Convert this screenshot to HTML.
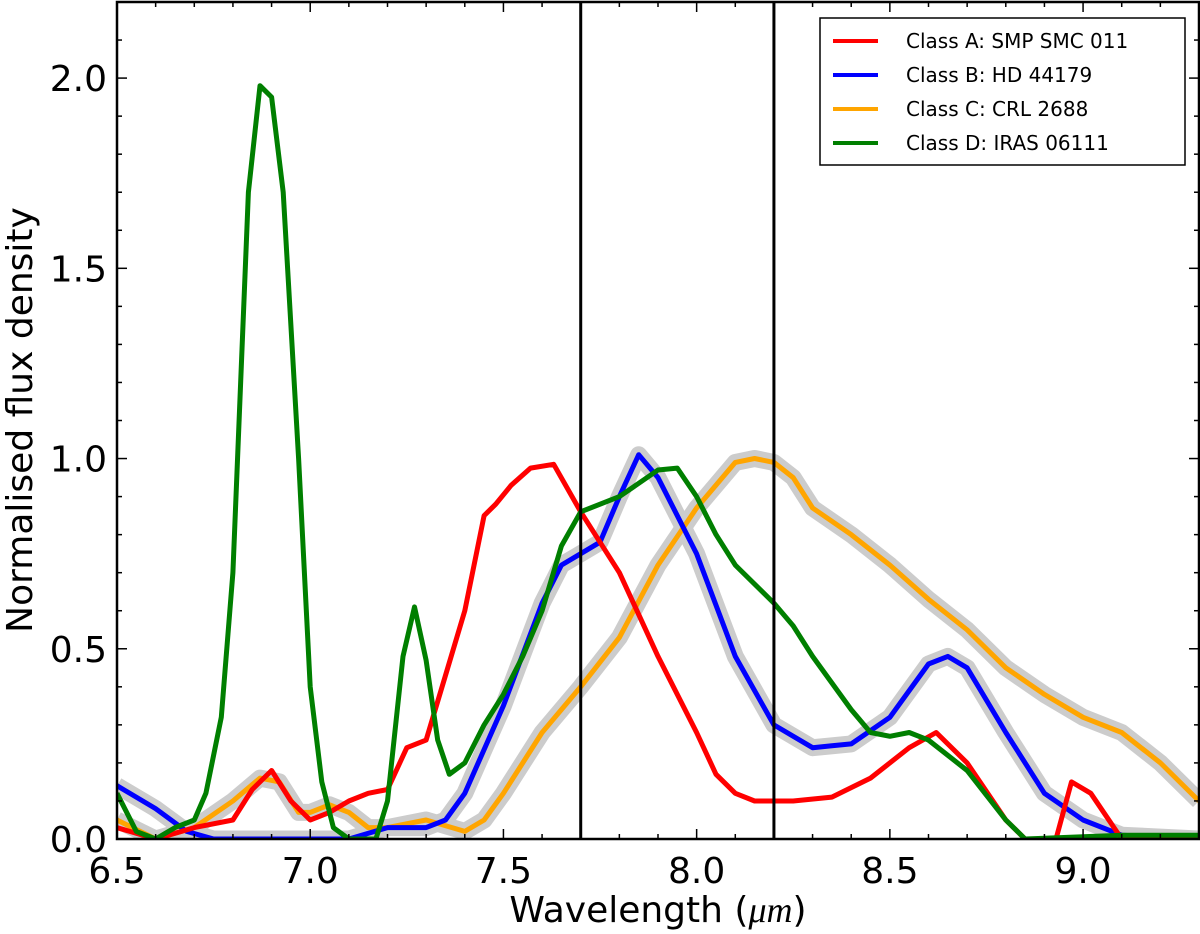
<!DOCTYPE html>
<html><head><meta charset="utf-8"><style>
body{margin:0;background:#fff;}
svg{display:block;font-family:"DejaVu Sans","Liberation Sans",sans-serif;}
</style></head><body>
<svg id="chart" width="1200" height="934"></svg>
<script>
const xTicks=[6.5,7.0,7.5,8.0,8.5,9.0];
const yTicks=[0.0,0.5,1.0,1.5,2.0];
const vLines=[7.7,8.2];
const seriesNames=["Class A: SMP SMC 011","Class B: HD 44179","Class C: CRL 2688","Class D: IRAS 06111"];
const seriesColors=["#ff0000","#0000ff","#ffa500","#007f00"];
const aX=[6.5,6.6,6.7,6.8,6.85,6.9,6.95,7.0,7.05,7.1,7.15,7.2,7.25,7.3,7.35,7.4,7.45,7.48,7.52,7.57,7.63,7.7,7.8,7.9,8.0,8.05,8.1,8.15,8.25,8.35,8.45,8.55,8.62,8.7,8.8,8.85,8.93,8.97,9.02,9.1,9.3];
const aY=[0.03,0.0,0.03,0.05,0.13,0.18,0.1,0.05,0.07,0.1,0.12,0.13,0.24,0.26,0.43,0.6,0.85,0.88,0.93,0.975,0.985,0.86,0.7,0.48,0.28,0.17,0.12,0.1,0.1,0.11,0.16,0.24,0.28,0.2,0.05,0.0,0.0,0.15,0.12,0.0,0.0];
const bX=[6.5,6.6,6.68,6.75,7.1,7.2,7.3,7.35,7.4,7.5,7.6,7.65,7.7,7.75,7.8,7.85,7.9,8.0,8.1,8.2,8.3,8.35,8.4,8.5,8.6,8.65,8.7,8.8,8.9,9.0,9.1,9.3];
const bY=[0.14,0.08,0.02,0.0,0.0,0.03,0.03,0.05,0.12,0.35,0.62,0.72,0.75,0.78,0.9,1.01,0.95,0.75,0.48,0.3,0.24,0.245,0.25,0.32,0.46,0.48,0.45,0.28,0.12,0.05,0.01,0.0];
const cX=[6.5,6.6,6.7,6.8,6.87,6.92,6.97,7.0,7.05,7.1,7.15,7.2,7.3,7.4,7.45,7.5,7.6,7.7,7.8,7.9,8.0,8.1,8.15,8.2,8.25,8.3,8.4,8.5,8.6,8.7,8.8,8.9,9.0,9.1,9.2,9.3];
const cY=[0.05,0.0,0.03,0.1,0.16,0.15,0.07,0.07,0.09,0.07,0.03,0.03,0.05,0.02,0.05,0.12,0.28,0.4,0.53,0.72,0.87,0.99,1.0,0.99,0.95,0.87,0.8,0.72,0.63,0.55,0.45,0.38,0.32,0.28,0.2,0.1];
const dX=[6.5,6.55,6.6,6.65,6.7,6.73,6.77,6.8,6.84,6.87,6.9,6.93,6.97,7.0,7.03,7.06,7.1,7.17,7.2,7.24,7.27,7.3,7.33,7.36,7.4,7.45,7.5,7.55,7.6,7.65,7.7,7.8,7.9,7.95,8.0,8.05,8.1,8.2,8.25,8.3,8.4,8.45,8.5,8.55,8.6,8.7,8.8,8.85,9.1,9.3];
const dY=[0.12,0.02,0.0,0.03,0.05,0.12,0.32,0.7,1.7,1.98,1.95,1.7,1.0,0.4,0.15,0.03,0.0,0.0,0.1,0.48,0.61,0.47,0.26,0.17,0.2,0.3,0.38,0.48,0.6,0.77,0.86,0.9,0.97,0.975,0.9,0.8,0.72,0.62,0.56,0.48,0.34,0.28,0.27,0.28,0.26,0.18,0.05,0.0,0.01,0.01];

const L=117,R=1199,T=2,B=839,X0=6.5,X1=9.3,Y0=0,Y1=2.2;
const sx=v=>L+(v-X0)/(X1-X0)*(R-L);
const sy=v=>B-(v-Y0)/(Y1-Y0)*(B-T);
const NS="http://www.w3.org/2000/svg";
const svg=document.getElementById('chart');
function mk(tag,attrs,parent){const e=document.createElementNS(NS,tag);for(const k in attrs)e.setAttribute(k,attrs[k]);(parent||svg).appendChild(e);return e;}
const clip=mk('clipPath',{id:'pc'});mk('rect',{x:L,y:T,width:R-L,height:B-T},clip);
const plot=mk('g',{'clip-path':'url(#pc)'});


function pts(xs,ys){return xs.map((x,i)=>sx(x).toFixed(1)+','+sy(ys[i]).toFixed(1)).join(' ');}
[[cX,cY,'c'],[bX,bY,'b']].forEach(([xs,ys,n])=>{
  const e=mk('polyline',{points:pts(xs,ys),fill:'none',stroke:'#cccccc','stroke-width':17,'stroke-linejoin':'round'},plot);
  
  
});
const allX=[aX,bX,cX,dX],allY=[aY,bY,cY,dY];
const order=[2,1,0,3];
order.forEach(i=>{
  const e=mk('polyline',{points:pts(allX[i],allY[i]),fill:'none',stroke:seriesColors[i],'stroke-width':5,'stroke-linejoin':'round'},plot);
  
  
});
vLines.forEach(v=>{
  const e=mk('line',{x1:sx(v),x2:sx(v),y1:T,y2:B,stroke:'#000','stroke-width':3},plot);
  
  
});
const fr=mk('rect',{x:L,y:T,width:R-L,height:B-T,fill:'none',stroke:'#000','stroke-width':2.5});


for(let v=6.5;v<=9.301;v+=0.1){const maj=Math.abs((v*2)-Math.round(v*2))<1e-6;const len=maj?10:5;
 mk('line',{x1:sx(v),x2:sx(v),y1:B,y2:B-len,stroke:'#000','stroke-width':1.5});
 mk('line',{x1:sx(v),x2:sx(v),y1:T,y2:T+len,stroke:'#000','stroke-width':1.5});}
for(let v=0;v<=2.201;v+=0.1){const maj=Math.abs((v*2)-Math.round(v*2))<1e-6;const len=maj?10:5;
 mk('line',{x1:L,x2:L+len,y1:sy(v),y2:sy(v),stroke:'#000','stroke-width':1.5});
 mk('line',{x1:R,x2:R-len,y1:sy(v),y2:sy(v),stroke:'#000','stroke-width':1.5});}
xTicks.forEach(v=>{const t=mk('text',{x:sx(v),y:B+44,'font-size':36,'text-anchor':'middle'});t.textContent=v.toFixed(1);
 
 });
yTicks.forEach(v=>{const t=mk('text',{x:L-10,y:sy(v)+13,'font-size':36,'text-anchor':'end'});t.textContent=v.toFixed(1);
 
 });
const xt=mk('text',{x:658,y:922,'font-size':36,'text-anchor':'middle'});xt.innerHTML='Wavelength (<tspan font-style="italic" font-family="Liberation Serif, serif">μm</tspan>)';


const yt=mk('text',{x:0,y:0,'font-size':36,'text-anchor':'middle',transform:'translate(32,420) rotate(-90)'});yt.textContent='Normalised flux density';


const lg=mk('g',{});


mk('rect',{x:820,y:18,width:365,height:147,fill:'#fff',stroke:'#000','stroke-width':1.5},lg);
seriesNames.forEach((n,i)=>{const y=41+i*34;
 const g=mk('g',{},lg);
 
 
 mk('line',{x1:833,x2:878,y1:y,y2:y,stroke:seriesColors[i],'stroke-width':4},g);
 const t=mk('text',{x:906,y:y+7,'font-size':20},g);t.textContent=n;});
</script>
</body></html>
